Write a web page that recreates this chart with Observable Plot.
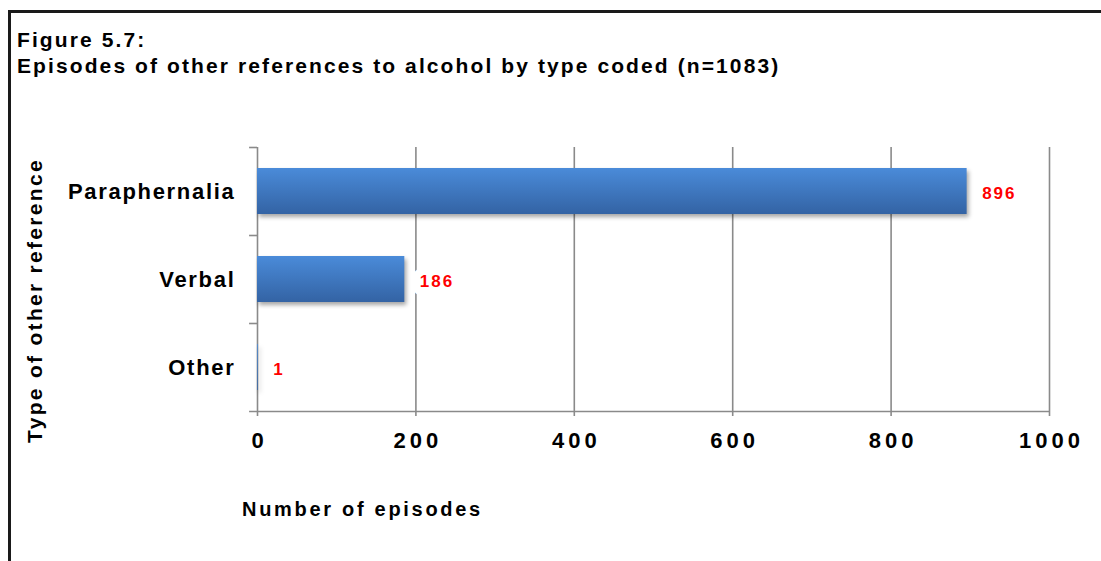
<!DOCTYPE html>
<html>
<head>
<meta charset="utf-8">
<script src="https://cdn.jsdelivr.net/npm/d3@7"></script>
<script src="https://cdn.jsdelivr.net/npm/@observablehq/plot@0.6"></script>
<style>
  html, body { margin: 0; padding: 0; background: #fff; }
  body { width: 1101px; height: 561px; overflow: hidden; position: relative; font-family: "Liberation Sans", Arial, sans-serif; }
  #frame { position: absolute; left: 8px; top: 10px; width: 1200px; height: 700px; border-top: 3px solid #1a1a1a; border-left: 3px solid #1a1a1a; z-index: 5; pointer-events: none; }
  #title { height: 100px; box-sizing: border-box; padding-top: 27px; padding-left: 17px; font-size: 21px; font-weight: bold; line-height: 26px; letter-spacing: 2.1px; color: #000; }
  #chart svg { display: block; background: transparent; }
  [aria-label="x-axis tick label"] text { letter-spacing: 4px; }
  [aria-label="y-axis tick label"] text { letter-spacing: 1.7px; }
  [aria-description="ytitle"] text { letter-spacing: 2.3px; }
  [aria-description="xtitle"] text { letter-spacing: 2.7px; }
  [aria-description="values"] text { letter-spacing: 2px; }
  [aria-label="bar"] rect { filter: drop-shadow(2px 3px 2px rgba(0,0,0,0.35)); }
</style>
</head>
<body>
<div id="frame"></div>
<div id="title">Figure 5.7:<br>Episodes of other references to alcohol by type coded (n=1083)</div>
<div id="chart"></div>
<script>
const categories = ["Paraphernalia", "Verbal", "Other"];
const counts = [896, 186, 1];
const xTicks = [0, 200, 400, 600, 800, 1000];
const xTitle = "Number of episodes";
const yTitle = "Type of other reference";

const data = categories.map((c, i) => ({type: c, n: counts[i]}));
const grid = "#8a8a8a";
const font = "Liberation Sans, Arial, sans-serif";

const chart = Plot.plot({
  width: 1101,
  height: 461,
  marginLeft: 257,
  marginRight: 52,
  marginTop: 47,
  marginBottom: 150,
  style: {fontFamily: font, background: "transparent", color: "#000"},
  x: {domain: [0, 1000]},
  y: {domain: categories, paddingInner: 0.48, paddingOuter: 0.24},
  marks: [
    Plot.ruleX(xTicks, {stroke: grid, strokeWidth: 1.6}),
    Plot.ruleY(categories, {y: d => d, dy: -44, x1: -10, x2: 0, stroke: grid, strokeWidth: 1.6}),
    Plot.ruleY([categories[categories.length - 1]], {y: d => d, dy: 44, x1: -10, x2: 1000, stroke: grid, strokeWidth: 1.6}),
    Plot.barX(data, {x: "n", y: "type", fill: "url(#barGrad)"}),
    Plot.axisX(xTicks, {tickSize: 5, tickFormat: () => "", stroke: grid, strokeWidth: 1.6, label: null}),
    Plot.axisX(xTicks, {tickSize: 0, tickPadding: 21, dx: 2, tickFormat: d => String(d), fontSize: 22, fontWeight: "bold", fill: "#000", label: null}),
    Plot.axisY({tickSize: 0, tickPadding: 22, fontSize: 22, fontWeight: "bold", fill: "#000", label: null}),
    Plot.text(data, {x: "n", y: "type", text: d => String(d.n), dx: 15, dy: 2, textAnchor: "start", lineAnchor: "middle",
      fill: "#ff0000", stroke: "white", strokeWidth: 16, fontSize: 17, fontWeight: "bold", ariaDescription: "values"}),
    Plot.text([yTitle], {text: d => d, frameAnchor: "left", dx: 35 - 257, dy: 21, rotate: -90, textAnchor: "middle", lineAnchor: "middle",
      fontSize: 21, fontWeight: "bold", fill: "#000", ariaDescription: "ytitle"}),
    Plot.text([xTitle], {text: d => d, frameAnchor: "bottom-left", dx: -15.5, dy: 97.6, textAnchor: "start", lineAnchor: "middle",
      fontSize: 20, fontWeight: "bold", fill: "#000", ariaDescription: "xtitle"})
  ]
});

const svg = d3.select(chart);
const defs = svg.insert("defs", ":first-child");
const grad = defs.append("linearGradient").attr("id", "barGrad").attr("x1", 0).attr("y1", 0).attr("x2", 0).attr("y2", 1);
grad.append("stop").attr("offset", "0%").attr("stop-color", "#4a8bd9");
grad.append("stop").attr("offset", "100%").attr("stop-color", "#3363a4");
svg.selectAll('[aria-label="bar"] rect').attr("fill", "url(#barGrad)");

document.getElementById("chart").appendChild(chart);
</script>
</body>
</html>
